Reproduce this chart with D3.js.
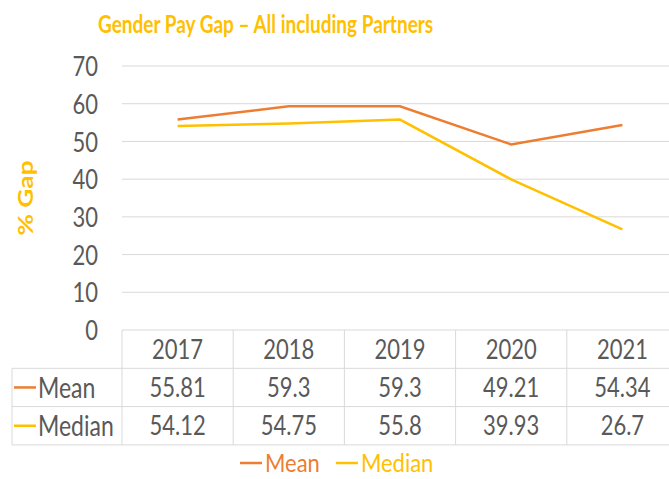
<!DOCTYPE html>
<html lang="en">
<head>
    <meta charset="UTF-8">
    <title>Gender Pay Gap</title>
    <script src="https://d3js.org/d3.v7.min.js"></script>
    <style>
        html, body {
            margin: 0;
            background: #fff;
        }

        text {
            font-family: Lato, "Open Sans", sans-serif;
        }

        .grid line {
            stroke: #d9d9d9;
            stroke-width: 1px;
        }

        path.series {
            fill: none;
            stroke-width: 2.5px;
        }
    </style>
</head>
<body>
<div class="chart"></div>

<script>
    var years = ["2017", "2018", "2019", "2020", "2021"];
    var meanValues = [55.81, 59.3, 59.3, 49.21, 54.34];
    var medianValues = [54.12, 54.75, 55.8, 39.93, 26.7];
    var yTicks = [0, 10, 20, 30, 40, 50, 60, 70];

    var seriesList = [
        {name: "Mean", values: meanValues, color: "#ED7D31"},
        {name: "Median", values: medianValues, color: "#FFC000"}
    ];

    var width = 669;
    var height = 479;
    var textColor = "#595959";
    var gridColor = "#d9d9d9";
    var stretch = 1.22; // the original text looks a bit tall and narrow

    var svg = d3.select(".chart").append("svg")
        .attr("width", width)
        .attr("height", height);

    // text placed at (x,y), vertically centred, stretched in height
    function addText(parent, x, y, str, anchor, size, color, bold, sy) {
        return parent.append("text")
            .attr("transform", "translate(" + x + "," + y + ") scale(1," + (sy || stretch) + ")")
            .attr("dy", "0.36em")
            .attr("text-anchor", anchor)
            .attr("font-size", size + "px")
            .attr("font-weight", bold ? "bold" : null)
            .attr("fill", color)
            .text(str);
    }

    var x = d3.scaleBand()
        .domain(years)
        .range([122, 678])
        .padding(0);

    var y = d3.scaleLinear()
        .domain([0, 70])
        .range([330, 66]);

    // title
    addText(svg, 98, 24, "Gender Pay Gap \u2013 All including Partners", "start", 19, "#FFC000", true, 1.3);

    // y axis title
    svg.append("text")
        .attr("transform", "translate(25,198) rotate(-90) scale(1.25,1)")
        .attr("dy", "0.36em")
        .attr("text-anchor", "middle")
        .attr("fill", "#FFC000")
        .attr("font-weight", "bold")
        .attr("font-size", "21px")
        .text("% Gap");

    // gridlines
    var grid = svg.append("g").attr("class", "grid");
    grid.selectAll("line")
        .data(yTicks.filter(function (d) { return d > 0; }))
        .enter().append("line")
        .attr("x1", x.range()[0])
        .attr("x2", x.range()[1])
        .attr("y1", function (d) { return y(d); })
        .attr("y2", function (d) { return y(d); });

    // y axis labels
    var yAxis = d3.axisLeft(y).tickValues(yTicks).tickSize(0).tickPadding(0);
    var yAxisG = svg.append("g")
        .attr("transform", "translate(98,0)")
        .call(yAxis);
    yAxisG.select(".domain").remove();
    yAxisG.selectAll(".tick text")
        .attr("font-family", "Lato, sans-serif")
        .attr("font-size", "22px")
        .attr("fill", textColor)
        .attr("x", null)
        .attr("dy", "0.36em")
        .attr("transform", "scale(1," + stretch + ")");

    // lines
    var line = d3.line()
        .x(function (d, i) { return x(years[i]) + x.bandwidth() / 2; })
        .y(function (d) { return y(d); });

    seriesList.forEach(function (s) {
        svg.append("path")
            .attr("class", "series")
            .attr("stroke", s.color)
            .attr("d", line(s.values));
    });

    // data table
    var rowTop = 330;
    var rowH = 38.3;
    var tableLeft = 12;
    var table = svg.append("g");

    // horizontal lines
    table.append("line")
        .attr("x1", x.range()[0]).attr("x2", x.range()[1])
        .attr("y1", rowTop).attr("y2", rowTop)
        .attr("stroke", gridColor);
    [1, 2, 3].forEach(function (r) {
        table.append("line")
            .attr("x1", tableLeft).attr("x2", x.range()[1])
            .attr("y1", rowTop + r * rowH).attr("y2", rowTop + r * rowH)
            .attr("stroke", gridColor);
    });

    // vertical lines
    table.append("line")
        .attr("x1", tableLeft).attr("x2", tableLeft)
        .attr("y1", rowTop + rowH).attr("y2", rowTop + 3 * rowH)
        .attr("stroke", gridColor);
    years.forEach(function (yr) {
        table.append("line")
            .attr("x1", x(yr)).attr("x2", x(yr))
            .attr("y1", rowTop).attr("y2", rowTop + 3 * rowH)
            .attr("stroke", gridColor);
    });

    // header row
    years.forEach(function (yr) {
        addText(table, x(yr) + x.bandwidth() / 2, rowTop + rowH / 2, yr, "middle", 22, textColor);
    });

    // series rows
    seriesList.forEach(function (s, r) {
        var cy = rowTop + (r + 1) * rowH + rowH / 2;
        table.append("line")
            .attr("x1", 14).attr("x2", 36)
            .attr("y1", cy).attr("y2", cy)
            .attr("stroke", s.color)
            .attr("stroke-width", 2.5);
        addText(table, 38, cy, s.name, "start", 23, textColor);
        s.values.forEach(function (v, i) {
            addText(table, x(years[i]) + x.bandwidth() / 2, cy, v, "middle", 22, textColor);
        });
    });

    // legend
    var legend = svg.append("g").attr("transform", "translate(240,463)");
    var lx = 0;
    seriesList.forEach(function (s) {
        var g = legend.append("g").attr("transform", "translate(" + lx + ",0)");
        g.append("line")
            .attr("x1", 0).attr("x2", 22)
            .attr("y1", 0).attr("y2", 0)
            .attr("stroke", s.color)
            .attr("stroke-width", 2.5);
        var t = addText(g, 25, 0, s.name, "start", 22, s.color, false, 1.12);
        lx += 25 + t.node().getComputedTextLength() + 16;
    });
</script>
</body>
</html>
